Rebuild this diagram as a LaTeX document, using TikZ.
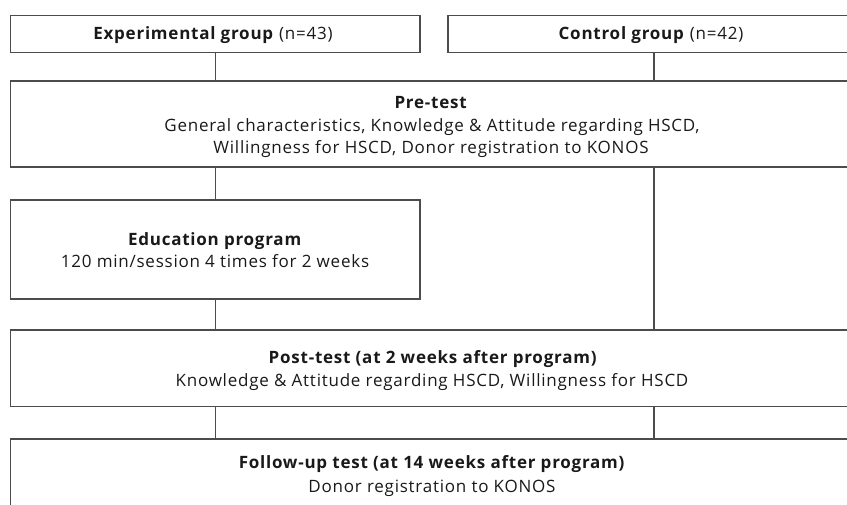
\documentclass[tikz,border=0pt]{standalone}
\usepackage{fontspec}
\setmainfont{Open Sans}[LetterSpace=4.5]
\begin{document}
\begin{tikzpicture}[x=1pt,y=-1pt,
  box/.style={draw=black!70,line width=1.1pt,rectangle,inner sep=0pt},
  conn/.style={draw=black!70,line width=1.1pt},
  txt/.style={anchor=base,inner sep=0pt,font=\fontsize{17}{20}\selectfont,text=black!90}]
\useasboundingbox (0,0) rectangle (847,504);
\clip (0,0) rectangle (847,504);
% boxes
\node[box,minimum width=409.5pt,minimum height=37pt] (exp) at (215.25,34) {};
\node[box,minimum width=412pt,minimum height=37pt] (ctl) at (654,34) {};
\node[box,minimum width=849.5pt,minimum height=86pt] (pre) at (435.25,124) {};
\node[box,minimum width=409.5pt,minimum height=99pt] (edu) at (215.25,249.5) {};
\node[box,minimum width=849.5pt,minimum height=76.5pt] (post) at (435.25,368.25) {};
\node[box,minimum width=849.5pt,minimum height=90pt] (fol) at (435.25,484) {};
% texts
\node[txt] (expt) at (213,39) {\textbf{Experimental group} (n=43)};
\node[txt] (ctlt) at (651,39) {\textbf{Control group} (n=42)};
\node[txt] (pre1) at (431,108.5) {\textbf{Pre-test}};
\node[txt] (pre2) at (432,131.5) {General characteristics, Knowledge \& Attitude regarding HSCD,};
\node[txt] (pre3) at (431,153.5) {Willingness for HSCD, Donor registration to KONOS};
\node[txt] (edu1) at (215,245) {\textbf{Education program}};
\node[txt] (edu2) at (215,267) {120 min/session 4 times for 2 weeks};
\node[txt] (post1) at (433,363) {\textbf{Post-test (at 2 weeks after program)}};
\node[txt] (post2) at (432,386.5) {Knowledge \& Attitude regarding HSCD, Willingness for HSCD};
\node[txt] (fol1) at (432,468) {\textbf{Follow-up test (at 14 weeks after program)}};
\node[txt] (fol2) at (432,492) {Donor registration to KONOS};
% connectors
\draw[conn] (exp.south) -- (exp.south |- pre.north);
\draw[conn] (ctl.south) -- (ctl.south |- pre.north);
\draw[conn] (exp.south |- pre.south) -- (edu.north);
\draw[conn] (ctl.south |- pre.south) -- (ctl.south |- post.north);
\draw[conn] (edu.south) -- (edu.south |- post.north);
\draw[conn] (exp.south |- post.south) -- (exp.south |- fol.north);
\draw[conn] (ctl.south |- post.south) -- (ctl.south |- fol.north);
\end{tikzpicture}
\end{document}
